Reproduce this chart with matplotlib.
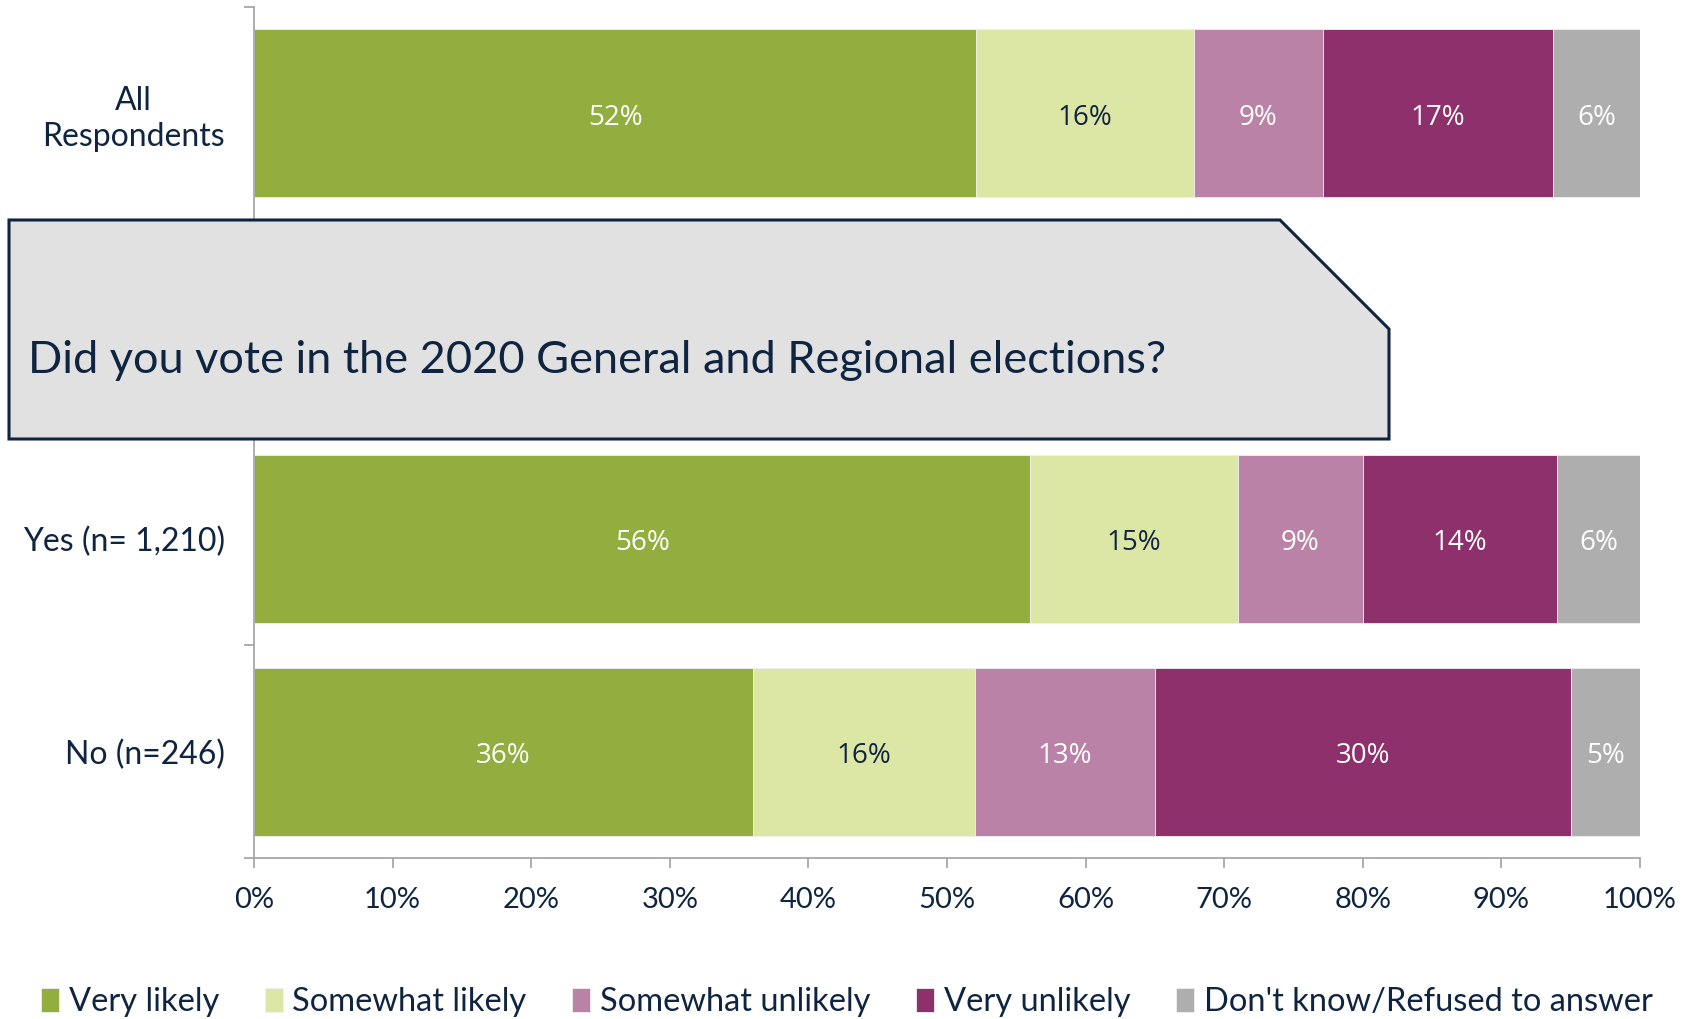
import matplotlib
matplotlib.use("Agg")
import matplotlib.pyplot as plt
from matplotlib.patches import Polygon
import numpy as np

categories = ["All\nRespondents", "", "Yes (n= 1,210)", "No (n=246)"]
series = ["Very likely", "Somewhat likely", "Somewhat unlikely", "Very unlikely",
          "Don't know/Refused to answer"]
very_likely = [52.1, 0, 56.0, 36.0]
somewhat_likely = [15.7, 0, 15.0, 16.0]
somewhat_unlikely = [9.3, 0, 9.0, 13.0]
very_unlikely = [16.6, 0, 14.0, 30.0]
dont_know = [6.3, 0, 6.0, 5.0]
xticks = [0, 10, 20, 30, 40, 50, 60, 70, 80, 90, 100]
question = "Did you vote in the 2020 General and Regional elections?"

colors = ["#92AE3F", "#DCE7A6", "#BB82A8", "#8E306C", "#AEAEAF"]
label_colors = ["white", "#0F2440", "white", "white", "white"]
navy = "#0F2440"

plt.rcParams['font.family'] = ['Lato', 'DejaVu Sans']

W, H = 1694, 1019
fig = plt.figure(figsize=(W / 100, H / 100), dpi=100)
ax = fig.add_axes([254 / W, 1 - 858 / H, (1640 - 254) / W, (858 - 7) / H])

data = [very_likely, somewhat_likely, somewhat_unlikely, very_unlikely, dont_know]
y = np.arange(len(categories))
left = np.zeros(len(categories))
for vals, name, c, lc in zip(data, series, colors, label_colors):
    vals = np.array(vals, dtype=float)
    ax.barh(y, vals, left=left, height=0.79, color=c, label=name,
            edgecolor="#f0f0f0", linewidth=0.6)
    for yi, v, l in zip(y, vals, left):
        if v > 0:
            ax.text(l + v / 2, yi + 0.02, f"{v:.0f}%", ha="center", va="center",
                    color=lc, fontsize=20, family=['Open Sans', 'DejaVu Sans'])
    left += vals

ax.set_xlim(0, 100)
ax.set_ylim(3.5, -0.5)
ax.set_xticks(xticks)
ax.set_xticklabels([f"{t}%" for t in xticks], fontsize=21, color=navy)
ax.set_yticks([-0.5, 0.5, 1.5, 2.5, 3.5])
ax.set_yticklabels([])
ax.set_yticks(y, minor=True)
ax.set_yticklabels(categories, minor=True, fontsize=23, color=navy)
for lab in ax.get_yticklabels(minor=True):
    lab.set_multialignment("center")
    lab.set_linespacing(1.25)
ax.tick_params(axis="y", which="minor", length=0, pad=21)
ax.tick_params(axis="both", which="major", length=7, width=1.2, color="#A0A0A8",
               direction="out")
ax.tick_params(axis="x", pad=14)
for s in ["top", "right"]:
    ax.spines[s].set_visible(False)
for s in ["left", "bottom"]:
    ax.spines[s].set_color("#A0A0A8")
    ax.spines[s].set_linewidth(1.2)

# callout box
pts = [(9, 220), (1280, 220), (1389, 329), (1389, 439), (9, 439)]
poly = Polygon([(px / W, 1 - py / H) for px, py in pts], closed=True,
               transform=fig.transFigure, facecolor="#E1E1E1", edgecolor=navy,
               linewidth=2.2, zorder=10)
fig.patches.append(poly)
fig.text(28 / W, 1 - 361 / H, question, fontsize=32.5, color=navy, va="center",
         ha="left", zorder=11)

leg = fig.legend(loc="center", bbox_to_anchor=(0.5, 1 - 1002 / H), ncol=5,
                 frameon=False, fontsize=23.5, handlelength=0.55, handleheight=0.75,
                 handletextpad=0.3, columnspacing=1.4, borderaxespad=0)
for t in leg.get_texts():
    t.set_color(navy)

fig.savefig("out.png", dpi=100)
